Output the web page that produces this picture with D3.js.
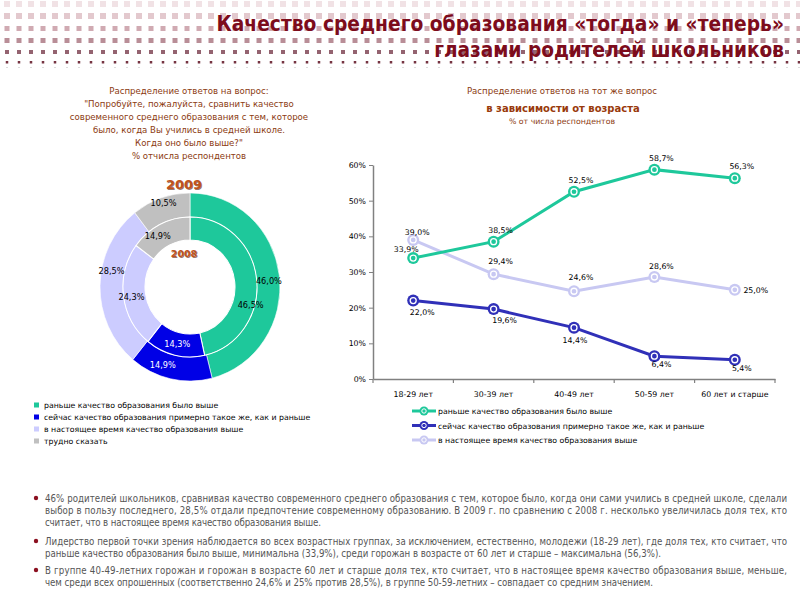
<!DOCTYPE html>
<html><head><meta charset="utf-8">
<script src="https://cdn.jsdelivr.net/npm/d3@7"></script>
<style>body{margin:0;background:#fff;} svg{display:block}</style>
</head><body><svg id="c" width="800" height="600"></svg>
<script>
// ---------- DATA ----------
const titleLines = ["Качество среднего образования «тогда» и «теперь»", "глазами родителей школьников"];
const leftTitle = ["Распределение ответов на вопрос:", "\"Попробуйте, пожалуйста, сравнить качество", "современного среднего образования с тем, которое", "было, когда Вы учились в средней школе.", "Когда оно было выше?\"", "% отчисла респондентов"];
const rightTitle = ["Распределение ответов на тот же вопрос", "в зависимости от возраста", "% от числа респондентов"];
const donutCategories = ["раньше качество образования было выше", "сейчас качество образования примерно такое же, как и раньше", "в настоящее время качество образования выше", "трудно сказать"];
const donutYears = ["2009", "2008"];
const donut2009 = [46.0, 14.9, 28.5, 10.5];
const donut2008 = [46.5, 14.3, 24.3, 14.9];
const ageGroups = ["18-29 лет", "30-39 лет", "40-49 лет", "50-59 лет", "60 лет и старше"];
const seriesNames = ["раньше качество образования было выше", "сейчас качество образования примерно такое же, как и раньше", "в настоящее время качество образования выше"];
const seriesEarlier = [33.9, 38.5, 52.5, 58.7, 56.3];
const seriesSame = [22.0, 19.6, 14.4, 6.4, 5.4];
const seriesNow = [39.0, 29.4, 24.6, 28.6, 25.0];
const yTicks = [0, 10, 20, 30, 40, 50, 60];
const bullets = [
  ["46% родителей школьников, сравнивая качество современного среднего образования с тем, которое было, когда они сами учились в средней школе, сделали",
   "выбор в пользу последнего, 28,5% отдали предпочтение современному образованию. В 2009 г. по сравнению с 2008 г. несколько увеличилась доля тех, кто",
   "считает, что в настоящее время качество образования выше."],
  ["Лидерство первой точки зрения наблюдается во всех возрастных группах, за исключением, естественно, молодежи (18-29 лет), где доля тех, кто считает, что",
   "раньше качество образования было выше, минимальна (33,9%), среди горожан в возрасте от 60 лет и старше – максимальна (56,3%)."],
  ["В группе 40-49-летних горожан и горожан в возрасте 60 лет и старше доля тех, кто считает, что в настоящее время качество образования выше, меньше,",
   "чем среди всех опрошенных (соответственно 24,6% и 25% против 28,5%), в группе 50-59-летних – совпадает со средним значением."]
];

// ---------- STYLE ----------
const donutColors = ["#1ec89b", "#0000e6", "#ccccff", "#c0c0c0"];
const lineColors = ["#1ec89b", "#3030b8", "#c8c8f2"];
const brown = "#8b3a10";
const fmt = v => d3.format(".1f")(v).replace(".", ",") + "%";
const svg = d3.select("#c");
const small = "DejaVu Sans, Verdana, sans-serif";
const narrow = "'Liberation Sans Narrow', 'Arial Narrow', 'DejaVu Sans Condensed', sans-serif";

// decorative pattern
const patRows = [
  {y: 1, s: 6, c: "#f1e2e5"}, {y: 13, s: 6, c: "#e3c9ce"}, {y: 26, s: 5, c: "#d0aab2"},
  {y: 38, s: 5, c: "#b98e97"}, {y: 50, s: 4, c: "#946370"}, {y: 61, s: 2.5, c: "#763442"},
  {y: 67, s: 1, c: "#b8b8b8"}
];
const pat = svg.append("g");
patRows.forEach(r => {
  pat.selectAll(null).data(d3.range(4, 800, 12)).join("rect")
    .attr("x", d => d + (6 - r.s) / 2).attr("y", r.y).attr("width", r.s).attr("height", r.s).attr("fill", r.c);
});

// title
const titleRight = 784;
const tWidths = [568, 350];
const tBase = [31, 57];
titleLines.forEach((t, i) => {
  const txt = svg.append("text").attr("x", titleRight).attr("y", tBase[i]).attr("text-anchor", "end")
    .attr("font-family", narrow).attr("font-weight", "bold").attr("font-size", 24).attr("fill", "#7d0c1c").text(t);
  const w = txt.node().getComputedTextLength();
  txt.attr("font-size", 24 * tWidths[i] / w);
});
// white background band under title text for clean reading
// (text drawn over pattern as in reference)

// ---------- LEFT: donut ----------
const ltY = [94, 107, 120, 133, 146, 159];
leftTitle.forEach((t, i) => {
  svg.append("text").attr("x", 189).attr("y", ltY[i]).attr("text-anchor", "middle")
    .attr("font-family", small).attr("font-size", 8.6).attr("fill", brown).text(t);
});
function yearLabel(x, y, size, t) {
  svg.append("text").attr("x", x + 0.8).attr("y", y + 0.8).attr("text-anchor", "middle").attr("font-family", small)
    .attr("font-weight", "bold").attr("font-size", size).attr("fill", "#5a2008").attr("opacity", 0.6).text(t);
  svg.append("text").attr("x", x).attr("y", y).attr("text-anchor", "middle").attr("font-family", small)
    .attr("font-weight", "bold").attr("font-size", size).attr("fill", "#c0521c").text(t);
}
yearLabel(184, 189, 13, donutYears[0]);
yearLabel(184, 257, 9.5, donutYears[1]);

const cx = 190, cy = 287, sy = 1.045;
const rIn = 45, rMid = 67, rOut = 90;
const pie = d3.pie().sort(null).value(d => d);
const arcOuter = d3.arc().innerRadius(rMid).outerRadius(rOut);
const arcInner = d3.arc().innerRadius(rIn).outerRadius(rMid);
const dg = svg.append("g").attr("transform", `translate(${cx},${cy}) scale(1,${sy})`);
dg.selectAll("path.o").data(pie(donut2009)).join("path").attr("d", arcOuter)
  .attr("fill", (d, i) => donutColors[i]).attr("stroke", "#fff").attr("stroke-width", 0.6);
dg.selectAll("path.i").data(pie(donut2008)).join("path").attr("d", arcInner)
  .attr("fill", (d, i) => donutColors[i]).attr("stroke", "#fff").attr("stroke-width", 1);

const outerNudge = [[1, 4], [-10, -2], [0, -15], [-1, -6]];
const innerNudge = [[5, 24], [0, 0], [-3, 2], [-7, 1]];
const lblArcO = d3.arc().innerRadius((rMid + rOut) / 2).outerRadius((rMid + rOut) / 2);
const lblArcI = d3.arc().innerRadius((rIn + rMid) / 2).outerRadius((rIn + rMid) / 2);
function donutLabels(data, arcG, nudge) {
  pie(data).forEach((d, i) => {
    const c = arcG.centroid(d);
    svg.append("text").attr("x", cx + c[0] + nudge[i][0]).attr("y", cy + c[1] * sy + nudge[i][1] + 3)
      .attr("text-anchor", "middle").attr("font-family", small).attr("font-size", 8.2)
      .attr("fill", i === 1 ? "#fff" : "#000").text(fmt(d.data));
  });
}
donutLabels(donut2009, lblArcO, outerNudge);
donutLabels(donut2008, lblArcI, innerNudge);

// left legend
const lg = svg.append("g");
donutCategories.forEach((t, i) => {
  const y = 405 + i * 12;
  lg.append("rect").attr("x", 34).attr("y", y - 2.5).attr("width", 5).attr("height", 5).attr("fill", donutColors[i]);
  lg.append("text").attr("x", 44).attr("y", y + 3).attr("font-family", small).attr("font-size", 7.8)
    .attr("fill", "#000").text(t);
});

// ---------- RIGHT: line chart ----------
svg.append("text").attr("x", 562).attr("y", 94).attr("text-anchor", "middle").attr("font-family", small)
  .attr("font-size", 8.6).attr("fill", brown).text(rightTitle[0]);
svg.append("text").attr("x", 563).attr("y", 112).attr("text-anchor", "middle").attr("font-family", small)
  .attr("font-weight", "bold").attr("font-size", 10).attr("fill", "#993a0c").text(rightTitle[1]);
svg.append("text").attr("x", 562).attr("y", 124).attr("text-anchor", "middle").attr("font-family", small)
  .attr("font-size", 7.8).attr("fill", brown).text(rightTitle[2]);

const x = d3.scaleBand().domain(ageGroups).range([373, 775]);
const y = d3.scaleLinear().domain([0, 60]).range([379, 165]);
const axisColor = "#808080";
const ya = svg.append("g").attr("transform", "translate(373,0)")
  .call(d3.axisLeft(y).tickValues(yTicks).tickFormat(d => d + "%").tickSize(4).tickSizeOuter(0).tickPadding(3));
ya.select(".domain").attr("stroke", axisColor).attr("stroke-width", 1.5);
ya.selectAll(".tick line").attr("stroke", axisColor);
ya.selectAll(".tick text").attr("font-family", small).attr("font-size", 7.8).attr("fill", "#000");
const xa = svg.append("g").attr("transform", "translate(0,379)")
  .call(d3.axisBottom(x).tickSize(0).tickSizeOuter(0).tickPadding(12));
xa.select(".domain").attr("stroke", axisColor).attr("stroke-width", 1.5);
xa.selectAll(".tick text").attr("font-family", small).attr("font-size", 7.8).attr("fill", "#000");
xa.selectAll("line.b").data(d3.range(ageGroups.length + 1)).join("line").attr("class", "b")
  .attr("x1", i => 373 + i * x.step()).attr("x2", i => 373 + i * x.step()).attr("y1", 0).attr("y2", 4)
  .attr("stroke", axisColor).attr("stroke-width", 1.2);

const series = [seriesEarlier, seriesSame, seriesNow];
const line = d3.line().x((d, i) => x(ageGroups[i]) + x.bandwidth() / 2).y(d => y(d));
function marker(g, px, py, col) {
  g.append("circle").attr("cx", px).attr("cy", py).attr("r", 6).attr("fill", col);
  g.append("circle").attr("cx", px).attr("cy", py).attr("r", 3).attr("fill", "none").attr("stroke", "#fff").attr("stroke-width", 1.3);
}
const drawOrder = [2, 1, 0];
drawOrder.forEach(si => {
  const g = svg.append("g");
  g.append("path").attr("d", line(series[si])).attr("fill", "none").attr("stroke", lineColors[si]).attr("stroke-width", 3);
  series[si].forEach((v, i) => marker(g, x(ageGroups[i]) + x.bandwidth() / 2, y(v), lineColors[si]));
});
// data labels: position rule per series (above / below), with a few manual placements
const labelOffsets = [
  [[-7, -9], [7, -12], [7, -12], [7, -12], [7, -12]],
  [[9, 11], [11, 11], [1, 12], [7, 8], [7, 8]],
  [[4, -8], [7, -13], [7, -14], [7, -11], [21, 0]]
];
series.forEach((s, si) => {
  s.forEach((v, i) => {
    const px = x(ageGroups[i]) + x.bandwidth() / 2, py = y(v);
    svg.append("text").attr("x", px + labelOffsets[si][i][0]).attr("y", py + labelOffsets[si][i][1] + 3)
      .attr("text-anchor", "middle").attr("font-family", small).attr("font-size", 7.8).attr("fill", "#000").text(fmt(v));
  });
});

// right legend
seriesNames.forEach((t, i) => {
  const ly = 411 + i * 14.5;
  const g = svg.append("g");
  g.append("line").attr("x1", 412).attr("x2", 436).attr("y1", ly).attr("y2", ly).attr("stroke", lineColors[i]).attr("stroke-width", 3);
  g.append("circle").attr("cx", 424).attr("cy", ly).attr("r", 4.5).attr("fill", lineColors[i]);
  g.append("circle").attr("cx", 424).attr("cy", ly).attr("r", 2.2).attr("fill", "none").attr("stroke", "#fff").attr("stroke-width", 1);
  g.append("text").attr("x", 438).attr("y", ly + 3).attr("font-family", small).attr("font-size", 7.8).attr("fill", "#000").text(t);
});

// ---------- bottom bullets ----------
const lineY = [[498, 510, 522], [541, 553], [570, 582]];
const lineEnd = [[787, 787, 321], [787, 661], [787, 653]];
bullets.forEach((para, pi) => {
  svg.append("circle").attr("cx", 36).attr("cy", lineY[pi][0]).attr("r", 2.2).attr("fill", "#8b1020");
  para.forEach((t, li) => {
    svg.append("text").attr("x", 45).attr("y", lineY[pi][li] + 3.5).attr("font-family", narrow)
      .attr("font-size", 9.6).attr("fill", "#555").attr("textLength", lineEnd[pi][li] - 45)
      .attr("lengthAdjust", "spacing").text(t);
  });
});
</script></body></html>
